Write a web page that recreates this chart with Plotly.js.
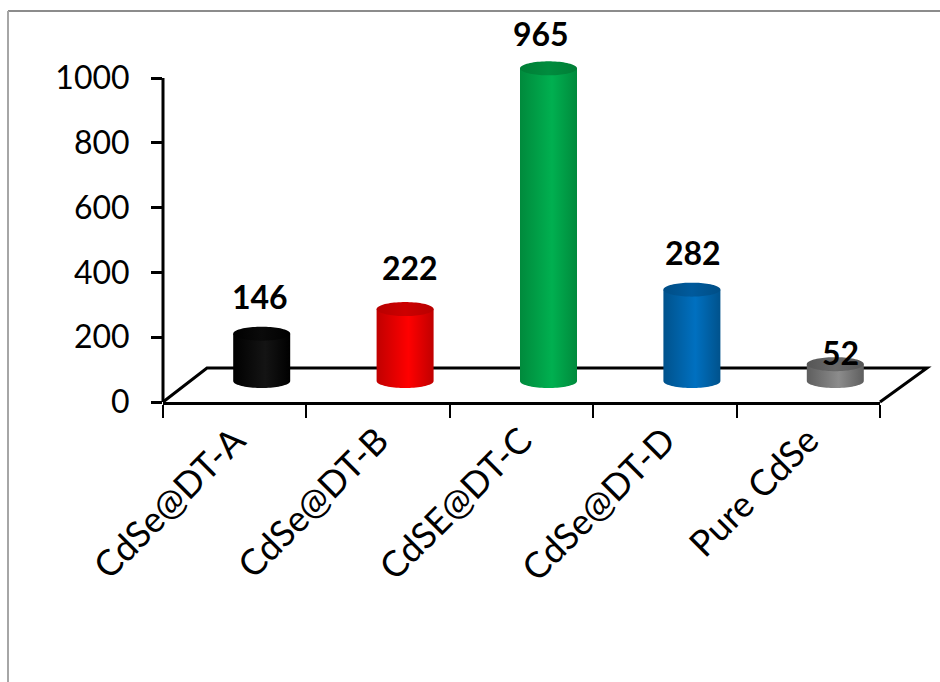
<!DOCTYPE html>
<html>
<head>
<meta charset="utf-8">
<script src="https://cdn.plot.ly/plotly-3.0.1.min.js"></script>
<style>
  html, body { margin: 0; padding: 0; background: #fff; }
  #chart { width: 940px; height: 682px; }
</style>
</head>
<body>
<div id="chart"></div>
<script>
// Sample names and their measured values
const categories = ['CdSe@DT-A', 'CdSe@DT-B', 'CdSE@DT-C', 'CdSe@DT-D', 'Pure CdSe'];
const values = [146, 222, 965, 282, 52];
const yTickValues = [0, 200, 400, 600, 800, 1000];

// Cylinder shading: side edge / side highlight / cap edge / cap centre
const sideEdge = ['#000000', '#C00000', '#008A3C', '#00528C', '#5E5E5E'];
const sideMid  = ['#141414', '#FF0000', '#00B050', '#0070C0', '#8C8C8C'];
const capEdge  = ['#000000', '#B80000', '#007E36', '#004E86', '#565656'];
const capMid   = ['#0A0A0A', '#CC0000', '#008C3E', '#005A9C', '#686868'];

// Value-label nudges (pixels) so labels sit where the 3D projection puts them
const labelDx = [-2, 5, -8, 1, 5];
const labelDy = [9, 13, 6, 9, -17];

// Plot-area geometry: the axis runs 0..1000 over 324 px, with head-room above
const W = 940, H = 682;
const M = { l: 163, r: 60, t: 30, b: 280 };
const axisPx = 324;
const yMax = 1000;
const plotW = W - M.l - M.r, plotH = H - M.t - M.b;
const unitPx = axisPx / yMax;
const yTop = plotH / unitPx;
const nCat = categories.length;
const catPx = plotW / nCat;

// Oblique depth: bars stand part-way back on the floor, floor back edge further
const barDepth = { dx: 27, dy: 21 };
const floorBackL = { dx: 44, dy: 34 };
const floorBackR = { dx: 47, dy: 34 };

const barHalfW = 28.5 / catPx;     // in category units
const capRy = 7 / unitPx;          // ellipse half-height, in value units

const px2paperX = p => (p - M.l) / plotW;
const px2paperY = p => (H - M.b - p) / plotH;

const traces = [];
values.forEach((v, i) => {
  const c = i;
  // side wall with rounded bottom
  const bx = [c - barHalfW, c - barHalfW, c + barHalfW, c + barHalfW];
  const by = [0, v, v, 0];
  const steps = 40;
  for (let k = 0; k <= steps; k++) {
    const t = Math.PI * k / steps;
    bx.push(c + barHalfW * Math.cos(t));
    by.push(-capRy * Math.sin(t));
  }
  traces.push({
    type: 'scatter', mode: 'none', x: bx, y: by,
    xaxis: 'x2', yaxis: 'y2', fill: 'toself',
    fillcolor: sideMid[i],
    fillgradient: {
      type: 'horizontal',
      colorscale: [[0, sideEdge[i]], [0.56, sideMid[i]], [1, sideEdge[i]]]
    },
    hoverinfo: 'skip', showlegend: false
  });
  // top cap
  const ex = [], ey = [];
  for (let k = 0; k <= 80; k++) {
    const t = 2 * Math.PI * k / 80;
    ex.push(c + barHalfW * Math.cos(t));
    ey.push(v + capRy * Math.sin(t));
  }
  traces.push({
    type: 'scatter', mode: 'none', x: ex, y: ey,
    xaxis: 'x2', yaxis: 'y2', fill: 'toself',
    fillcolor: capMid[i],
    fillgradient: {
      type: 'horizontal',
      colorscale: [[0, capEdge[i]], [0.5, capMid[i]], [1, capEdge[i]]]
    },
    hoverinfo: 'skip', showlegend: false
  });
});

// anchor trace so the category axis knows its labels
traces.push({
  type: 'bar', x: categories, y: values.map(() => 0),
  marker: { color: 'rgba(0,0,0,0)' }, hoverinfo: 'skip', showlegend: false
});

const annotations = values.map((v, i) => ({
  xref: 'x2', yref: 'y2', x: i + labelDx[i] / catPx, y: v + capRy,
  yanchor: 'bottom', xanchor: 'center', yshift: labelDy[i],
  text: String(v), showarrow: false,
  font: { family: 'Lato, sans-serif', size: 32, color: '#000', weight: 'bold' }
}));

const floorPath =
  'M ' + px2paperX(M.l) + ' ' + px2paperY(H - M.b) +
  ' L ' + px2paperX(M.l + floorBackL.dx) + ' ' + px2paperY(H - M.b - floorBackL.dy) +
  ' L ' + px2paperX(W - M.r + floorBackR.dx) + ' ' + px2paperY(H - M.b - floorBackR.dy) +
  ' L ' + px2paperX(W - M.r) + ' ' + px2paperY(H - M.b);

const shapes = [
  { type: 'path', xref: 'paper', yref: 'paper', path: floorPath,
    line: { color: '#000', width: 3 }, layer: 'below' },
  // value axis line, 0 to 1000 only
  { type: 'line', xref: 'paper', yref: 'y', x0: 0, x1: 0, y0: 0, y1: yMax,
    line: { color: '#000', width: 3 }, layer: 'below' },
  // chart-area frame
  { type: 'line', xref: 'paper', yref: 'paper',
    x0: px2paperX(8), x1: px2paperX(W), y0: px2paperY(11), y1: px2paperY(11),
    line: { color: '#8C8C8C', width: 2 }, layer: 'below' },
  { type: 'line', xref: 'paper', yref: 'paper',
    x0: px2paperX(8), x1: px2paperX(8), y0: px2paperY(11), y1: px2paperY(H),
    line: { color: '#A6A6A6', width: 2 }, layer: 'below' }
];

const layout = {
  width: W, height: H,
  margin: M,
  paper_bgcolor: '#fff', plot_bgcolor: 'rgba(0,0,0,0)',
  showlegend: false,
  font: { family: 'Lato, sans-serif', color: '#000' },
  xaxis: {
    type: 'category', range: [-0.5, nCat - 0.5], tickson: 'boundaries',
    ticks: 'outside', ticklen: 13, tickwidth: 2, tickcolor: '#000',
    showline: true, linewidth: 3, linecolor: '#000',
    showgrid: false, zeroline: false, tickangle: -45,
    tickfont: { family: 'Lato, sans-serif', size: 36, color: '#000' },
    fixedrange: true
  },
  yaxis: {
    range: [0, yTop], tickvals: yTickValues,
    ticks: 'outside', ticklen: 11, tickwidth: 3, tickcolor: '#000',
    showline: false, showgrid: false, zeroline: false, ticklabelstandoff: 15,
    tickfont: { family: 'Lato, sans-serif', size: 32, color: '#000' },
    fixedrange: true
  },
  xaxis2: {
    overlaying: 'x', anchor: 'y2', type: 'linear', visible: false,
    range: [-0.5 - barDepth.dx / catPx, nCat - 0.5 - barDepth.dx / catPx],
    fixedrange: true
  },
  yaxis2: {
    overlaying: 'y', anchor: 'x2', visible: false,
    range: [-barDepth.dy / unitPx, yTop - barDepth.dy / unitPx],
    fixedrange: true
  },
  shapes: shapes,
  annotations: annotations
};

Plotly.newPlot('chart', traces, layout, { displayModeBar: false, staticPlot: true });
</script>
</body>
</html>
